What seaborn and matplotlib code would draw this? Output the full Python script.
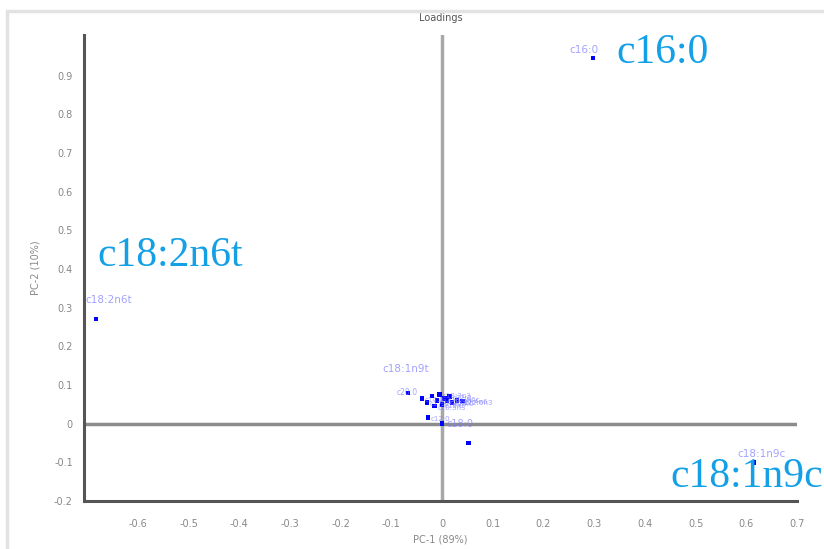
import numpy as np
import pandas as pd
import matplotlib
matplotlib.use("Agg")
import matplotlib.pyplot as plt
import seaborn as sns
from matplotlib.patches import Rectangle
from matplotlib.ticker import MultipleLocator, FixedLocator

# ---- data ----
names = ["c16:0", "c18:2n6t", "c18:1n9c", "c18:0", "c10:0",
         "c20:0", "c14:0", "c17:0", "c18:1n9t", "c16:1", "c18:3n3",
         "c15:0", "c18:2n6c", "c20:1", "c22:0", "c24:0", "c20:4n6",
         "c22:6n3", "c20:5n3", "c12:0"]
pc1 = [0.298, -0.682, 0.615, 0.000, 0.052,
       -0.067, -0.040, -0.030, -0.020, -0.010, -0.005,
       0.000, 0.005, 0.010, 0.015, 0.020, 0.030,
       0.040, -0.015, -0.028]
pc2 = [0.945, 0.270, -0.100, 0.000, -0.050,
       0.080, 0.065, 0.055, 0.072, 0.060, 0.075,
       0.050, 0.065, 0.058, 0.070, 0.055, 0.060,
       0.058, 0.045, 0.016]
big_labels = ["c16:0", "c18:2n6t", "c18:1n9c"]
big_pos = [(0.343, 0.932), (-0.679, 0.408), (0.450, -0.164)]
xticks = [-0.6, -0.5, -0.4, -0.3, -0.2, -0.1, 0, 0.1, 0.2, 0.3, 0.4, 0.5, 0.6, 0.7]
yticks = [-0.2, -0.1, 0, 0.1, 0.2, 0.3, 0.4, 0.5, 0.6, 0.7, 0.8, 0.9]

df = pd.DataFrame({"name": names, "PC1": pc1, "PC2": pc2})

sns.set_theme(style="white")
plt.rcParams['font.family'] = ['DejaVu Sans']

fig = plt.figure(figsize=(8.24, 5.49), dpi=100)
fig.patches.append(Rectangle((7/824, -0.1), 1.2, 1 - 11/549 + 0.1,
                             transform=fig.transFigure, fill=False,
                             edgecolor="#e2e2e2", linewidth=2.5, zorder=0))
ax = fig.add_axes([84/824, 1 - 501/549, (797 - 84)/824, (501 - 35)/549])

ax.axhline(0, color="#8c8c8c", linewidth=2.5, zorder=1)
ax.axvline(0, color="#a8a8a8", linewidth=2.5, zorder=1)

sns.scatterplot(data=df, x="PC1", y="PC2", ax=ax, marker="s", s=10,
                color="#0000ff", edgecolor="none", zorder=3, legend=False)

# label placement (offset in points, fontsize)
place = {"c16:0": (-17, 6, 7.5), "c18:2n6t": (-8, 14, 7.5),
         "c18:1n9c": (-12, 6, 7.5), "c18:0": (3, 0, 7),
         "c18:1n9t": (-36, 19, 7.5), "c20:0": (-8, 0, 5.5),
         "c10:0": None}
for n, x, y in zip(names, pc1, pc2):
    if n in place and place[n] is None:
        continue
    ox, oy, fs = place.get(n, (2, -1, 5))
    ax.annotate(n, (x, y), xytext=(ox, oy), textcoords="offset points",
                fontsize=fs, color="#7b7bff", alpha=0.7, zorder=4,
                va="center", ha="left")

for t, (x, y) in zip(big_labels, big_pos):
    ax.text(x, y, t, fontsize=30, family="Liberation Serif",
            color="#14a0e6", ha="left", va="baseline", zorder=5)

ax.set_xlim(-0.706, 0.7)
ax.set_ylim(-0.2, 1.005)
ax.xaxis.set_major_locator(FixedLocator(xticks))
ax.yaxis.set_major_locator(FixedLocator(yticks))
ax.xaxis.set_minor_locator(MultipleLocator(0.05))
ax.yaxis.set_minor_locator(MultipleLocator(0.05))
ax.set_xticklabels(["0" if v == 0 else f"{v:g}" for v in xticks])
ax.set_yticklabels(["0" if v == 0 else f"{v:g}" for v in yticks])
ax.tick_params(axis="both", which="major", direction="out", length=3,
               width=1.2, color="#555555", labelsize=7, labelcolor="#888888")
ax.tick_params(axis="both", which="minor", direction="out", length=2,
               width=1.0, color="#555555")
ax.tick_params(axis="x", pad=10)
ax.tick_params(axis="y", pad=5)

for s in ["top", "right"]:
    ax.spines[s].set_visible(False)
for s in ["left", "bottom"]:
    ax.spines[s].set_color("#555555")
    ax.spines[s].set_linewidth(2.2)

ax.set_xlabel("PC-1 (89%)", fontsize=7, color="#888888", labelpad=4)
ax.set_ylabel("PC-2 (10%)", fontsize=7, color="#888888", labelpad=10)
ax.set_title("Loadings", fontsize=7, color="#555555", pad=10)

fig.savefig("out.png", dpi=100)
